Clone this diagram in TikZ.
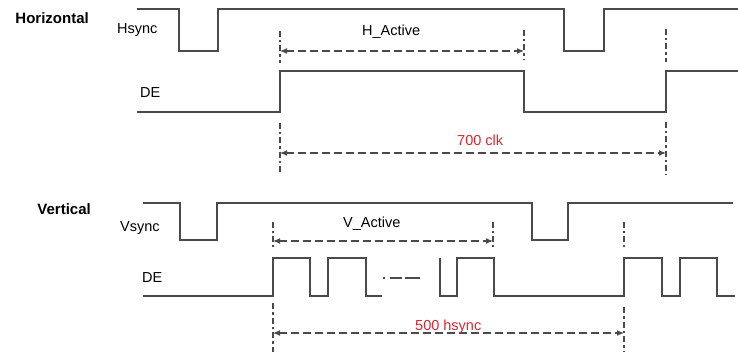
\documentclass[tikz,border=0pt]{standalone}
\usepackage{fontspec}
\setmainfont{Liberation Sans}
\usepackage{tikz}
\usetikzlibrary{arrows.meta}
\definecolor{wavegray}{HTML}{4A4A4A}
\definecolor{cntred}{HTML}{E02530}
\tikzset{
  wave/.style    = {draw=wavegray, line width=1.4pt},
  tick/.style    = {draw=wavegray, line width=1.2pt,
                    dash pattern=on 6pt off 3pt on 2.5pt off 3pt},
  span/.style    = {draw=wavegray, line width=1.2pt, dash pattern=on 8pt off 4pt,
                    {Latex[length=7pt,width=6pt]}-{Latex[length=7pt,width=6pt]}},
  dots/.style    = {draw=wavegray, line width=1.2pt,
                    dash pattern=on 2pt off 5pt on 12pt off 3pt on 15pt off 60pt},
  siglbl/.style  = {font=\fontsize{14.5}{17}\selectfont, inner sep=0pt,
                    anchor=base west},
  grplbl/.style  = {font=\fontsize{15}{18}\selectfont\bfseries, inner sep=0pt,
                    anchor=base east},
  cntlbl/.style  = {siglbl, text=cntred}
}

\begin{document}
\begin{tikzpicture}[x=1pt,y=-1pt]
  \useasboundingbox (0,0) rectangle (738,352);
  % horizontal timing
  \node[grplbl] (horiz) at (89,24) {Horizontal};
  \node[siglbl] (hsync) at (117,33.5) {Hsync};
  \node[siglbl] (hde)   at (140,97.5) {DE};
  \draw[wave] (137,9) -| (179,51) -| (218,9) -| (564,51) -| (604,9) -- (738,9);
  \draw[wave] (137,112) -| (280,71) -| (524,112) -| (666,71) -- (738,71);
  \coordinate (hact0) at (280,51);
  \coordinate (hact1) at (524,51);
  \coordinate (clk0)  at (280,153);
  \coordinate (clk1)  at (666,153);
  \draw[tick] (280,31) -- (280,63);
  \draw[tick] (280,123) -- (280,175);
  \draw[tick] (524,30) -- (524,60);
  \draw[tick] (666,29) -- (666,62);
  \draw[tick] (666,122) -- (666,175);
  \draw[span] (hact0) -- (hact1);
  \draw[span] (clk0) -- (clk1);
  \node[siglbl] (hactlbl) at (362,36) {H\_Active};
  \node[cntlbl] (clklbl)  at (457,146) {700 clk};

  % vertical timing
  \node[grplbl] (vert)  at (91,215) {Vertical};
  \node[siglbl] (vsync) at (120,232) {Vsync};
  \node[siglbl] (vde)   at (142,283) {DE};
  \draw[wave] (143,203) -| (180,240) -| (217,203) -| (532,240) -| (568,203) -- (733,203);
  \draw[wave] (143,296) -| (273,258) -| (310,296) -| (328,258) -| (366,296) -- (382,296);
  \draw[wave] (440,258) -- (440,296) -| (457,258) -| (494,296) -| (624,258)
              -| (662,296) -| (680,258) -| (717,296) -- (735,296);
  \draw[dots] (383,278) -- (421,278);
  \coordinate (vact0) at (273,241);
  \coordinate (vact1) at (493,241);
  \coordinate (hs0)   at (273,333);
  \coordinate (hs1)   at (624,333);
  \draw[tick] (273,222) -- (273,247);
  \draw[tick] (273,303) -- (273,352);
  \draw[tick] (493,222) -- (493,247);
  \draw[tick] (624,222) -- (624,247);
  \draw[tick] (624,307) -- (624,352);
  \draw[span] (vact0) -- (vact1);
  \draw[span] (hs0) -- (hs1);
  \node[siglbl] (vactlbl) at (343,228) {V\_Active};
  \node[cntlbl] (hslbl)   at (415,330) {500 hsync};
\end{tikzpicture}
\end{document}
